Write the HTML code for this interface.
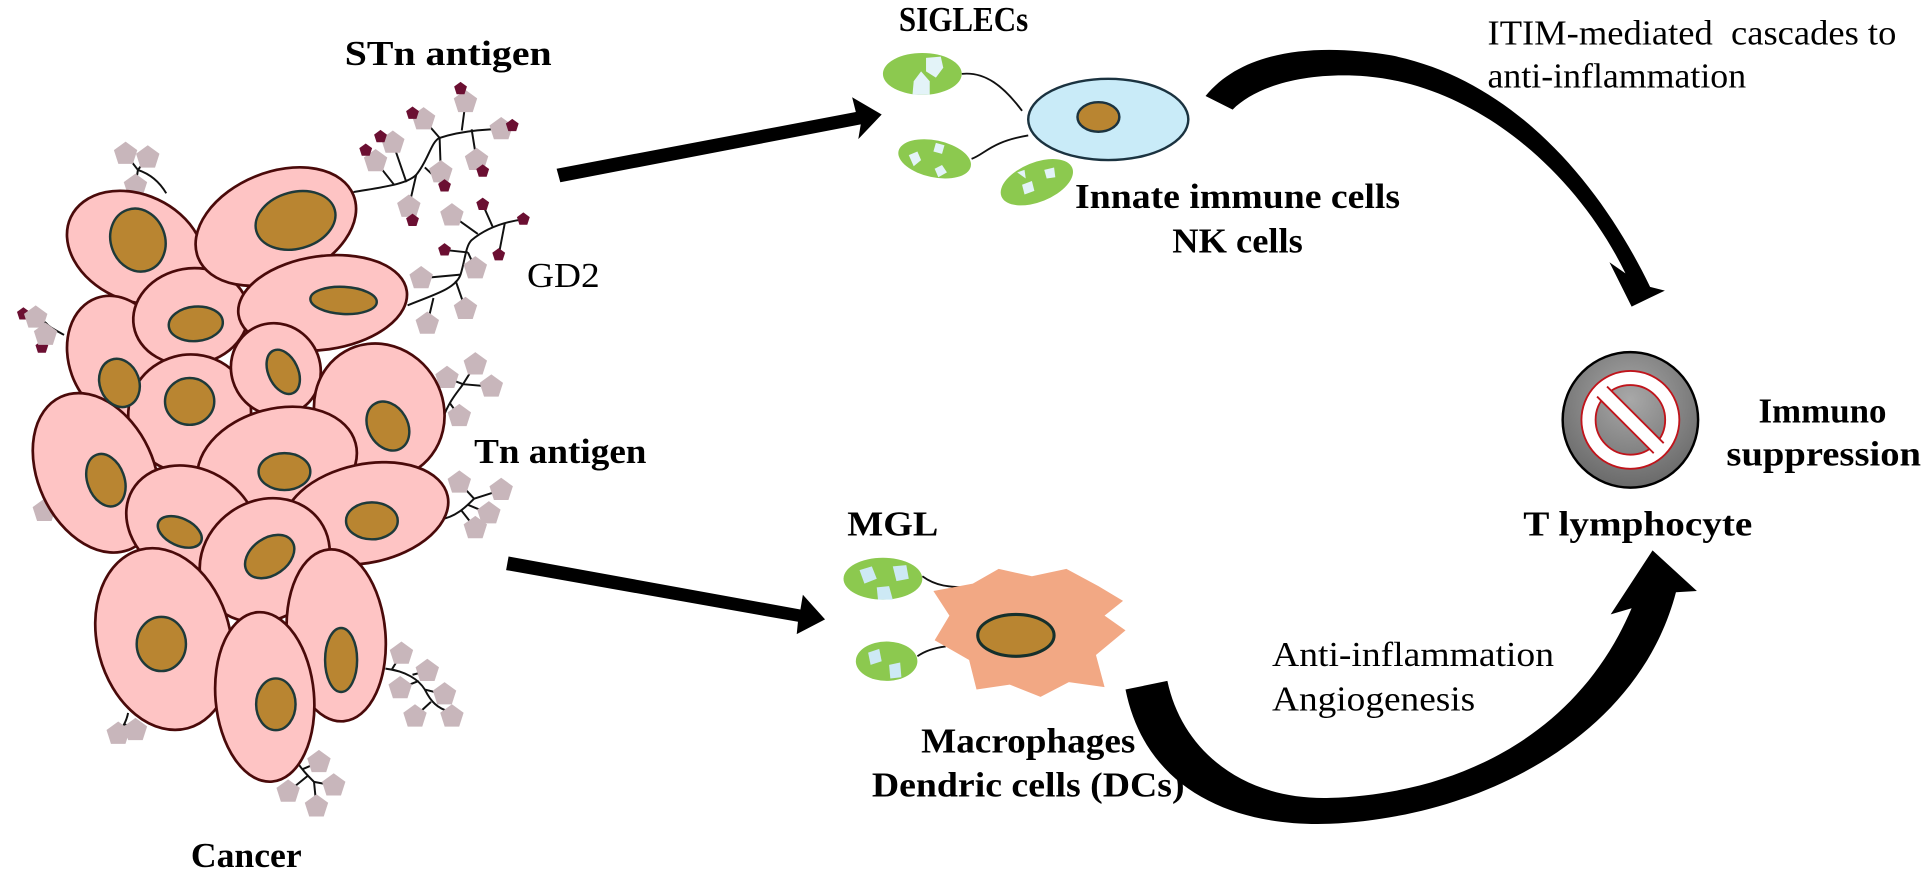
<!DOCTYPE html>
<html><head><meta charset="utf-8"><style>
html,body{margin:0;padding:0;background:#fff;}
svg{display:block;}
text{font-family:"Liberation Serif","Times New Roman",serif;fill:#000;}
.b{font-weight:bold;}
</style></head><body>
<svg width="1921" height="873" viewBox="0 0 1560 709" preserveAspectRatio="none" xmlns="http://www.w3.org/2000/svg">
<defs>
<path id="pg" d="M0,-10 L9.5,-3.1 L5.9,8.1 L-5.9,8.1 L-9.5,-3.1Z" fill="#c8b6bb"/>
<path id="pd" d="M0,-5.5 L5.2,-1.7 L3.2,4.5 L-3.2,4.5 L-5.2,-1.7Z" fill="#6b0f32"/>
<radialGradient id="tg" cx="50%" cy="35%" r="65%"><stop offset="0" stop-color="#a8a8a8"/><stop offset="1" stop-color="#6a6a6a"/></radialGradient>
</defs>

<g fill="none" stroke="#111" stroke-width="1.6">
<path d="M287,156 C310,152 330,150 338,142 C348,130 350,115 357,112 C375,106 400,104 419,105"/>
<path d="M338,142 L332,168 M345,136 L361,151 M357,112 L344,97 M357,112 L358,140 M375,106 L378,83 M383,105 L387,130 M330,148 L319,116 M320,150 L305,131 M405,104 L407,105"/>
<path d="M331,248 C350,240 370,235 374,223 C378,210 378,200 383,195 C395,185 410,180 426,178"/>
<path d="M374,223 L342,226 M370,228 L378,251 M352,242 L347,263 M380,205 L386,218 M380,205 L361,203 M388,190 L367,175 M400,184 L392,166 M410,181 L405,207"/>
<path d="M135,157 C128,145 118,140 112,138 M112,138 L102,125 M112,138 L120,128 M112,138 L110,151"/>
<path d="M52,272 C45,268 40,266 37,262 M37,262 L29,258 M40,266 L37,272"/>
<path d="M55,422 C48,418 44,416 36,415"/>
<path d="M360,339 C365,325 372,318 376,312 M376,312 L386,296 M376,312 L363,307 M376,312 L399,314 M365,327 L373,338"/>
<path d="M357,422 C370,420 378,412 385,405 M385,405 L373,392 M385,405 L407,398 M380,410 L397,417 M375,415 L386,429"/>
<path d="M313,543 C330,545 340,552 345,560 C350,570 355,575 365,578 M318,544 L326,531 M335,548 L347,545 M340,553 L325,559 M345,560 L361,564 M350,570 L337,582"/>
<path d="M240,617 C245,625 250,630 255,635 M245,625 L259,619 M250,630 L234,643 M255,635 L271,638 M255,635 L257,655"/>
<path d="M104,579 C103,585 100,590 96,596 M101,588 L110,593"/>
</g>
<g>
<use href="#pg" x="378" y="83"/><use href="#pg" x="344" y="97"/><use href="#pg" x="407" y="105"/><use href="#pg" x="319" y="116"/><use href="#pg" x="305" y="131"/><use href="#pg" x="387" y="130"/><use href="#pg" x="358" y="140"/><use href="#pg" x="332" y="168"/>
<use href="#pd" x="374" y="72"/><use href="#pd" x="335" y="92"/><use href="#pd" x="416" y="102"/><use href="#pd" x="309" y="111"/><use href="#pd" x="297" y="122"/><use href="#pd" x="392" y="139"/><use href="#pd" x="361" y="151"/><use href="#pd" x="335" y="179"/>
<use href="#pg" x="342" y="226"/><use href="#pg" x="367" y="175"/><use href="#pg" x="386" y="218"/><use href="#pg" x="378" y="251"/><use href="#pg" x="347" y="263"/>
<use href="#pd" x="392" y="166"/><use href="#pd" x="425" y="178"/><use href="#pd" x="361" y="203"/><use href="#pd" x="405" y="207"/>
<use href="#pg" x="102" y="125"/><use href="#pg" x="120" y="128"/><use href="#pg" x="110" y="151"/>
<use href="#pd" x="19" y="255"/><use href="#pd" x="34" y="282"/><use href="#pg" x="29" y="258"/><use href="#pg" x="37" y="272"/>
<use href="#pg" x="36" y="415"/>
<use href="#pg" x="386" y="296"/><use href="#pg" x="363" y="307"/><use href="#pg" x="399" y="314"/><use href="#pg" x="373" y="338"/>
<use href="#pg" x="373" y="392"/><use href="#pg" x="407" y="398"/><use href="#pg" x="397" y="417"/><use href="#pg" x="386" y="429"/>
<use href="#pg" x="326" y="531"/><use href="#pg" x="347" y="545"/><use href="#pg" x="325" y="559"/><use href="#pg" x="361" y="564"/><use href="#pg" x="337" y="582"/><use href="#pg" x="367" y="582"/>
<use href="#pg" x="259" y="619"/><use href="#pg" x="234" y="643"/><use href="#pg" x="271" y="638"/><use href="#pg" x="257" y="655"/>
<use href="#pg" x="96" y="596"/><use href="#pg" x="110" y="593"/>
</g>

<g stroke="#4a0a0a" stroke-width="2.2" fill="#fec4c4">
<ellipse cx="110" cy="201" rx="58" ry="43" transform="rotate(25 110 201)"/>
<ellipse cx="96" cy="291" rx="40" ry="52" transform="rotate(-20 96 291)"/>
<ellipse cx="155" cy="257" rx="47" ry="39" transform="rotate(-10 155 257)"/>
<ellipse cx="224" cy="184" rx="68" ry="44" transform="rotate(-22 224 184)"/>
<ellipse cx="262" cy="246" rx="69" ry="38" transform="rotate(-8 262 246)"/>
<ellipse cx="154" cy="336" rx="50" ry="48" transform="rotate(-15 154 336)"/>
<ellipse cx="224" cy="300" rx="36" ry="38" transform="rotate(-30 224 300)"/>
<ellipse cx="308" cy="334" rx="52" ry="56" transform="rotate(-30 308 334)"/>
<ellipse cx="225" cy="377" rx="66" ry="45" transform="rotate(-15 225 377)"/>
<ellipse cx="78" cy="384" rx="47" ry="68" transform="rotate(-25 78 384)"/>
<ellipse cx="156" cy="426" rx="56" ry="45" transform="rotate(30 156 426)"/>
<ellipse cx="297" cy="417" rx="68" ry="40" transform="rotate(-12 297 417)"/>
<ellipse cx="215" cy="455" rx="55" ry="48" transform="rotate(-35 215 455)"/>
<ellipse cx="133" cy="519" rx="54" ry="75" transform="rotate(-15 133 519)"/>
<ellipse cx="273" cy="516" rx="40" ry="70" transform="rotate(-5 273 516)"/>
<ellipse cx="215" cy="566" rx="40" ry="69" transform="rotate(-5 215 566)"/>
</g>
<g stroke="#1e3a3a" stroke-width="2" fill="#b98531">
<ellipse cx="112" cy="195" rx="22" ry="26" transform="rotate(-20 112 195)"/>
<ellipse cx="240" cy="179" rx="33" ry="23" transform="rotate(-15 240 179)"/>
<ellipse cx="159" cy="263" rx="22" ry="14" transform="rotate(-5 159 263)"/>
<ellipse cx="279" cy="244" rx="27" ry="11" transform="rotate(3 279 244)"/>
<ellipse cx="97" cy="311" rx="16" ry="20" transform="rotate(-20 97 311)"/>
<ellipse cx="154" cy="326" rx="20" ry="19"/>
<ellipse cx="230" cy="302" rx="12" ry="19" transform="rotate(-25 230 302)"/>
<ellipse cx="315" cy="346" rx="16" ry="21" transform="rotate(-30 315 346)"/>
<ellipse cx="231" cy="383" rx="21" ry="15"/>
<ellipse cx="86" cy="390" rx="15" ry="22" transform="rotate(-20 86 390)"/>
<ellipse cx="146" cy="432" rx="19" ry="11" transform="rotate(25 146 432)"/>
<ellipse cx="302" cy="423" rx="21" ry="15"/>
<ellipse cx="219" cy="452" rx="22" ry="15" transform="rotate(-35 219 452)"/>
<ellipse cx="131" cy="523" rx="20" ry="22"/>
<ellipse cx="277" cy="536" rx="13" ry="26"/>
<ellipse cx="224" cy="572" rx="16" ry="21"/>
</g>

<path d="M452,137 L695,91 L692,79 L716,93 L697,113 L699,101 L455,148 Z" fill="#000"/>
<path d="M413,452 L650,495 L652,483 L670,503 L647,515 L648,505 L411,463 Z" fill="#000"/>

<g stroke="#111" stroke-width="1.5" fill="none">
<path d="M781,60 C800,58 815,70 830,90"/>
<path d="M789,129 C800,125 805,115 835,110"/>
</g>
<ellipse cx="900" cy="97" rx="65" ry="33" fill="#c9ebf8" stroke="#1b3340" stroke-width="2"/>
<ellipse cx="892" cy="95" rx="17" ry="12" fill="#b98531" stroke="#1b3340" stroke-width="2"/>
<g fill="#8cc94f">
<ellipse cx="749" cy="60" rx="32" ry="17"/>
<ellipse cx="759" cy="129" rx="30" ry="15" transform="rotate(12 759 129)"/>
<ellipse cx="842" cy="148" rx="31" ry="16" transform="rotate(-22 842 148)"/>
</g>
<g fill="#e3f3f8">
<path d="M752,47 L764,46 L766,55 L760,63 L752,58Z"/><path d="M742,66 L748,58 L755,66 L755,77 L741,77Z"/>
<path d="M738,126 L745,123 L748,130 L742,135Z"/><path d="M760,116 L767,118 L765,125 L758,123Z"/><path d="M759,137 L765,134 L769,140 L762,144Z"/>
<path d="M830,150 L838,147 L840,155 L832,158Z"/><path d="M848,138 L856,136 L857,144 L850,145Z"/><path d="M826,140 L832,138 L833,145Z"/>
</g>

<g stroke="#111" stroke-width="1.5" fill="none">
<path d="M749,468 C760,476 770,477 790,477"/>
<path d="M745,533 C752,528 760,526 768,525"/>
</g>
<polygon fill="#f2a884" points="914,512 890,532 897,558 868,554 845,566 820,556 793,560 787,536 759,520 771,500 758,480 790,474 811,462 838,468 866,462 892,476 912,488 897,500"/>
<ellipse cx="825" cy="516" rx="31" ry="17" fill="#b98531" stroke="#15302c" stroke-width="2.5"/>
<g fill="#8cc94f">
<ellipse cx="717" cy="470" rx="32" ry="17"/>
<ellipse cx="720" cy="537" rx="25" ry="16"/>
</g>
<g fill="#cde9f5">
<path d="M698,463 L708,460 L712,470 L702,474Z"/><path d="M725,460 L736,459 L738,470 L728,472Z"/><path d="M712,477 L722,476 L725,487 L713,487Z"/>
<path d="M705,530 L714,527 L716,537 L707,540Z"/><path d="M722,540 L731,538 L732,550 L723,551Z"/>
</g>

<path d="M979,78 C1010,40 1070,35 1130,45 C1230,65 1300,150 1340,233 L1352,236 L1325,249 L1307,213 L1320,222 C1280,140 1200,70 1110,62 C1060,58 1020,70 1001,89 Z" fill="#000"/>
<path d="M914,560 C930,640 1000,672 1080,669 C1200,664 1330,600 1361,481 L1378,480 L1342,447 L1308,499 L1325,494 C1280,600 1180,645 1080,648 C1010,650 960,610 948,553 Z" fill="#000"/>

<circle cx="1324" cy="341" r="55" fill="url(#tg)" stroke="#000" stroke-width="2"/>
<circle cx="1324" cy="341" r="34" fill="none" stroke="#c0141b" stroke-width="13"/>
<circle cx="1324" cy="341" r="34" fill="none" stroke="#fff" stroke-width="10"/>
<line x1="1301" y1="318" x2="1347" y2="364" stroke="#c0141b" stroke-width="13"/>
<line x1="1300" y1="317" x2="1348" y2="365" stroke="#fff" stroke-width="10"/>

<g font-size="28">
<text class="b" x="280" y="53" textLength="168" lengthAdjust="spacingAndGlyphs">STn antigen</text>
<text x="428" y="233" textLength="59" lengthAdjust="spacingAndGlyphs">GD2</text>
<text class="b" x="385" y="376" textLength="140" lengthAdjust="spacingAndGlyphs">Tn antigen</text>
<text class="b" x="155" y="704" textLength="90" lengthAdjust="spacingAndGlyphs">Cancer</text>
<text class="b" x="730" y="25" textLength="105" lengthAdjust="spacingAndGlyphs">SIGLECs</text>
<text class="b" x="873" y="169" textLength="264" lengthAdjust="spacingAndGlyphs">Innate immune cells</text>
<text class="b" x="952" y="205" textLength="106" lengthAdjust="spacingAndGlyphs">NK cells</text>
<text x="1208" y="36" textLength="332" lengthAdjust="spacingAndGlyphs" xml:space="preserve">ITIM-mediated  cascades to</text>
<text x="1208" y="71" textLength="210" lengthAdjust="spacingAndGlyphs">anti-inflammation</text>
<text class="b" x="1428" y="343" textLength="104" lengthAdjust="spacingAndGlyphs">Immuno</text>
<text class="b" x="1402" y="378" textLength="158" lengthAdjust="spacingAndGlyphs">suppression</text>
<text class="b" x="1237" y="435" textLength="186" lengthAdjust="spacingAndGlyphs">T lymphocyte</text>
<text class="b" x="688" y="435" textLength="74" lengthAdjust="spacingAndGlyphs">MGL</text>
<text class="b" x="748" y="611" textLength="174" lengthAdjust="spacingAndGlyphs">Macrophages</text>
<text class="b" x="708" y="647" textLength="254" lengthAdjust="spacingAndGlyphs">Dendric cells (DCs)</text>
<text x="1033" y="541" textLength="229" lengthAdjust="spacingAndGlyphs">Anti-inflammation</text>
<text x="1033" y="577" textLength="165" lengthAdjust="spacingAndGlyphs">Angiogenesis</text>
</g>
</svg>
</body></html>
